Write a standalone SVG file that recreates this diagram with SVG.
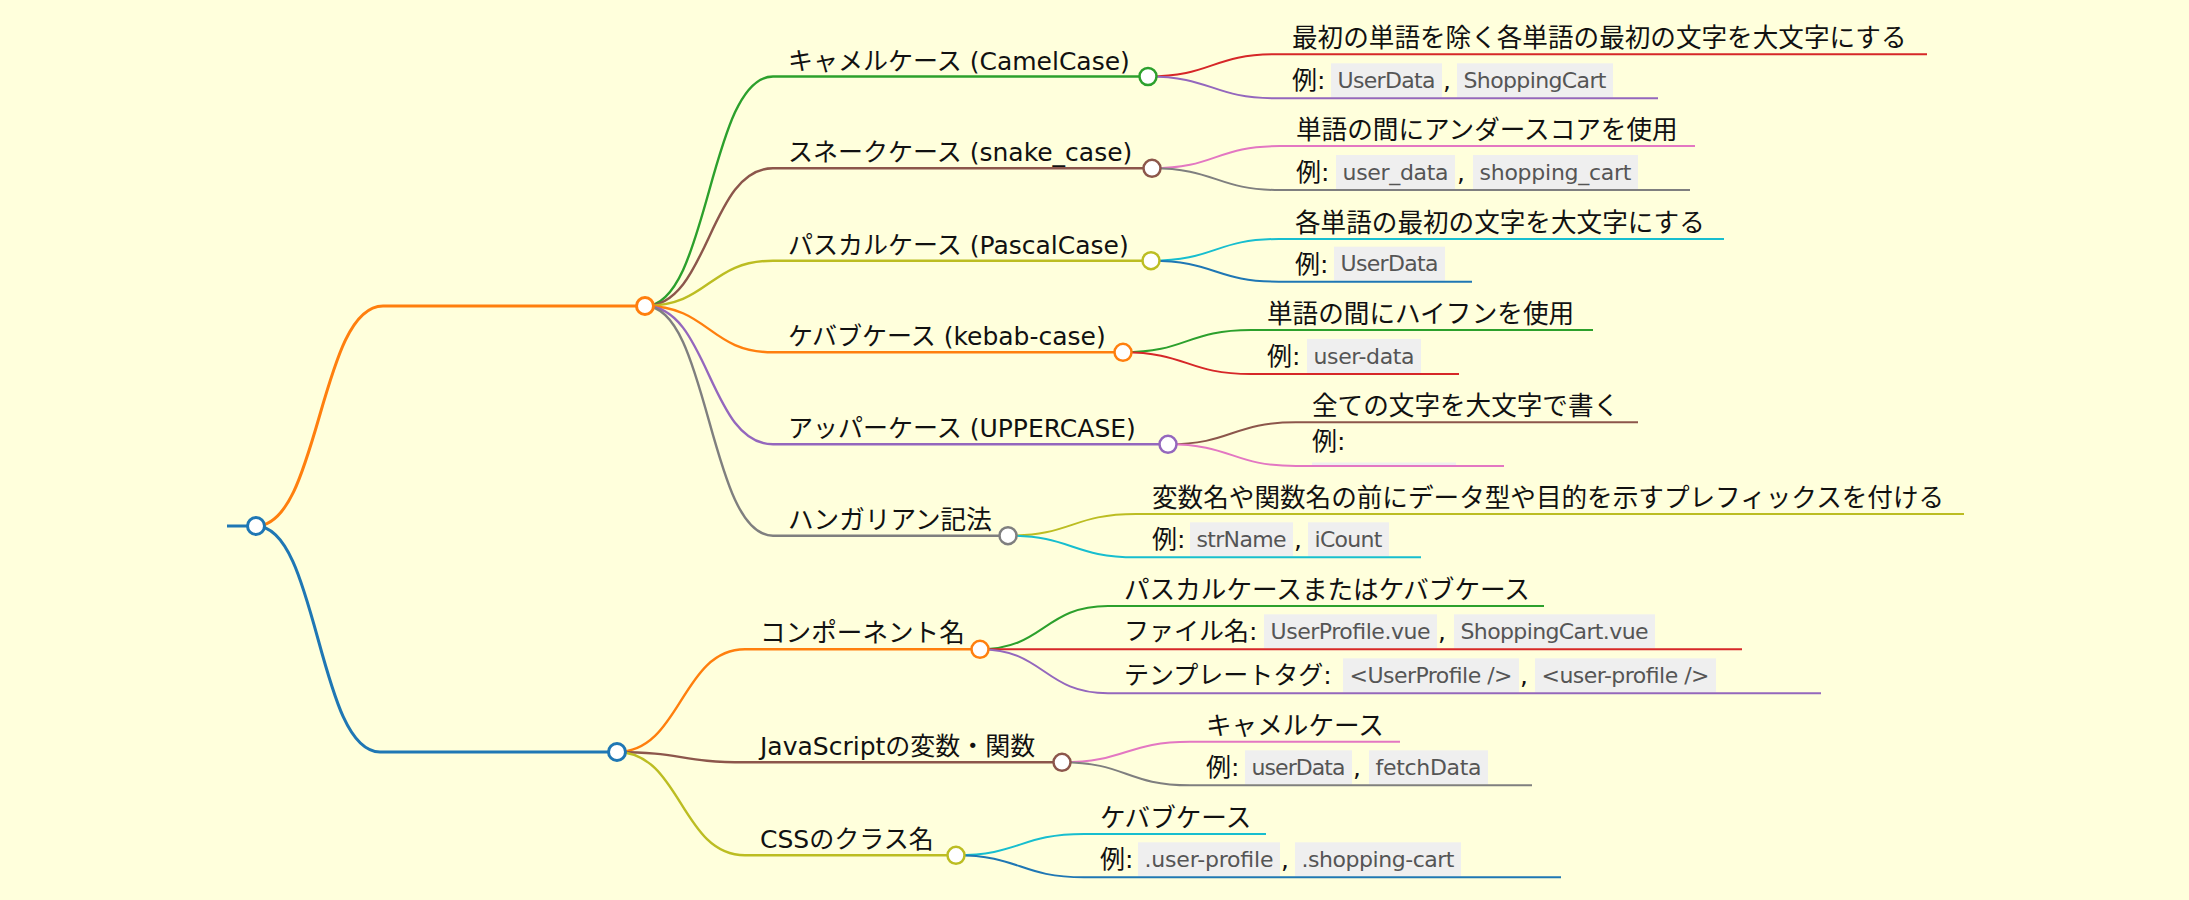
<svg xmlns="http://www.w3.org/2000/svg" width="2189" height="900" viewBox="0 0 2189 900">
<style>
.t{font-family:"DejaVu Sans","Noto Sans CJK JP",sans-serif;font-size:25px;fill:#111}
.j{font-size:25.6px}
.c{font-family:"DejaVu Sans","Noto Sans CJK JP",sans-serif;font-size:22px;fill:#555}
.box{fill:#efefef}
path{fill:none;stroke-linecap:butt}
.w1{stroke-width:3}
.w2{stroke-width:2.4}
.w3{stroke-width:2}
circle{fill:#fff}
.cb1{stroke-width:3}
.cb2{stroke-width:2.5}
</style>
<rect x="0" y="0" width="2189" height="900" fill="#ffffdc"/>
<g id="connectors">
<path class="w1" stroke="#ff7f0e" d="M256,526 C319.5,526 319.5,306 383,306"/>
<path class="w1" stroke="#1f77b4" d="M256,526 C318,526 318,752 380,752"/>
<path class="w2" stroke="#2ca02c" d="M645,306 C709,306 709,76.5 773,76.5"/>
<path class="w2" stroke="#8c564b" d="M645,306 C709,306 709,168.3 773,168.3"/>
<path class="w2" stroke="#bcbd22" d="M645,306 C709,306 709,260.7 773,260.7"/>
<path class="w2" stroke="#ff7f0e" d="M645,306 C709,306 709,352.3 773,352.3"/>
<path class="w2" stroke="#9467bd" d="M645,306 C709,306 709,444.3 773,444.3"/>
<path class="w2" stroke="#7f7f7f" d="M645,306 C709,306 709,535.7 773,535.7"/>
<path class="w2" stroke="#ff7f0e" d="M617,752 C681,752 681,649.3 745,649.3"/>
<path class="w2" stroke="#8c564b" d="M617,752 C681,752 681,762.3 745,762.3"/>
<path class="w2" stroke="#bcbd22" d="M617,752 C681,752 681,855.3 745,855.3"/>
<path class="w3" stroke="#d62728" d="M1148,76.5 C1212,76.5 1212,54.3 1276,54.3"/>
<path class="w3" stroke="#9467bd" d="M1148,76.5 C1212,76.5 1212,98.3 1276,98.3"/>
<path class="w3" stroke="#e377c2" d="M1152,168.3 C1216,168.3 1216,146 1280,146"/>
<path class="w3" stroke="#7f7f7f" d="M1152,168.3 C1216,168.3 1216,190 1280,190"/>
<path class="w3" stroke="#17becf" d="M1151,260.7 C1215,260.7 1215,239 1279,239"/>
<path class="w3" stroke="#1f77b4" d="M1151,260.7 C1215,260.7 1215,281.7 1279,281.7"/>
<path class="w3" stroke="#2ca02c" d="M1123,352.3 C1187,352.3 1187,330 1251,330"/>
<path class="w3" stroke="#d62728" d="M1123,352.3 C1187,352.3 1187,374 1251,374"/>
<path class="w3" stroke="#8c564b" d="M1168,444.3 C1232,444.3 1232,422.3 1296,422.3"/>
<path class="w3" stroke="#e377c2" d="M1168,444.3 C1232,444.3 1232,466 1296,466"/>
<path class="w3" stroke="#bcbd22" d="M1008,535.7 C1072,535.7 1072,514 1136,514"/>
<path class="w3" stroke="#17becf" d="M1008,535.7 C1072,535.7 1072,557.3 1136,557.3"/>
<path class="w3" stroke="#2ca02c" d="M980,649.3 C1044,649.3 1044,606 1108,606"/>
<path class="w3" stroke="#d62728" d="M980,649.3 L1108,649.3"/>
<path class="w3" stroke="#9467bd" d="M980,649.3 C1044,649.3 1044,693.3 1108,693.3"/>
<path class="w3" stroke="#e377c2" d="M1062,762.3 C1126,762.3 1126,741.7 1190,741.7"/>
<path class="w3" stroke="#7f7f7f" d="M1062,762.3 C1126,762.3 1126,785.3 1190,785.3"/>
<path class="w3" stroke="#17becf" d="M956,855.3 C1020,855.3 1020,834 1084,834"/>
<path class="w3" stroke="#1f77b4" d="M956,855.3 C1020,855.3 1020,877.3 1084,877.3"/>
</g>

<g id="root">
<path class="w1" stroke="#1f77b4" d="M227,526 H256"/>
<circle class="cb1" cx="256" cy="526" r="8.5" stroke="#1f77b4"/>
</g>
<g id="main-top">
<path class="w1" stroke="#ff7f0e" d="M383,306 H645"/>
<circle class="cb1" cx="645" cy="306" r="8.5" stroke="#ff7f0e"/>
</g>
<g id="main-bottom">
<path class="w1" stroke="#1f77b4" d="M380,752 H617"/>
<circle class="cb1" cx="617" cy="752" r="8.5" stroke="#1f77b4"/>
</g>

<g id="camel">
<path class="w2" stroke="#2ca02c" d="M773,76.5 H1148"/>
<text class="t" x="788" y="69.5">キャメルケース (CamelCase)</text>
<circle class="cb2" cx="1148" cy="76.5" r="8.5" stroke="#2ca02c"/>
</g>
<g id="snake">
<path class="w2" stroke="#8c564b" d="M773,168.3 H1152"/>
<text class="t" x="788" y="161.3">スネークケース (snake_case)</text>
<circle class="cb2" cx="1152" cy="168.3" r="8.5" stroke="#8c564b"/>
</g>
<g id="pascal">
<path class="w2" stroke="#bcbd22" d="M773,260.7 H1151"/>
<text class="t" x="788" y="253.7">パスカルケース (PascalCase)</text>
<circle class="cb2" cx="1151" cy="260.7" r="8.5" stroke="#bcbd22"/>
</g>
<g id="kebab">
<path class="w2" stroke="#ff7f0e" d="M773,352.3 H1123"/>
<text class="t" x="788" y="345.3">ケバブケース (kebab-case)</text>
<circle class="cb2" cx="1123" cy="352.3" r="8.5" stroke="#ff7f0e"/>
</g>
<g id="upper">
<path class="w2" stroke="#9467bd" d="M773,444.3 H1168"/>
<text class="t" x="788" y="437.3">アッパーケース (UPPERCASE)</text>
<circle class="cb2" cx="1168" cy="444.3" r="8.5" stroke="#9467bd"/>
</g>
<g id="hungarian">
<path class="w2" stroke="#7f7f7f" d="M773,535.7 H1008"/>
<text class="t j" x="788" y="528.7">ハンガリアン記法</text>
<circle class="cb2" cx="1008" cy="535.7" r="8.5" stroke="#7f7f7f"/>
</g>
<g id="component">
<path class="w2" stroke="#ff7f0e" d="M745,649.3 H980"/>
<text class="t j" x="760" y="642.3">コンポーネント名</text>
<circle class="cb2" cx="980" cy="649.3" r="8.5" stroke="#ff7f0e"/>
</g>
<g id="javascript">
<path class="w2" stroke="#8c564b" d="M745,762.3 H1062"/>
<text class="t" x="760" y="755.3">JavaScriptの変数・関数</text>
<circle class="cb2" cx="1062" cy="762.3" r="8.5" stroke="#8c564b"/>
</g>
<g id="css">
<path class="w2" stroke="#bcbd22" d="M745,855.3 H956"/>
<text class="t" x="760" y="848.3">CSSのクラス名</text>
<circle class="cb2" cx="956" cy="855.3" r="8.5" stroke="#bcbd22"/>
</g>

<g id="camel-1">
<path class="w3" stroke="#d62728" d="M1276,54.3 H1927"/>
<text class="t j" x="1292" y="47.3">最初の単語を除く各単語の最初の文字を大文字にする</text>
</g>
<g id="camel-2">
<rect class="box" x="1331" y="63.3" width="111" height="34"/>
<rect class="box" x="1457" y="63.3" width="156" height="34"/>
<path class="w3" stroke="#9467bd" d="M1276,98.3 H1658"/>
<text class="t" x="1292" y="89.3">例:</text>
<text class="c" x="1337.5" y="87.8" textLength="98">UserData</text>
<text class="t" x="1443" y="89.3">,</text>
<text class="c" x="1463.5" y="87.8" textLength="143">ShoppingCart</text>
</g>
<g id="snake-1">
<path class="w3" stroke="#e377c2" d="M1280,146 H1695"/>
<text class="t j" x="1296" y="139">単語の間にアンダースコアを使用</text>
</g>
<g id="snake-2">
<rect class="box" x="1336" y="155" width="119" height="34"/>
<rect class="box" x="1473" y="155" width="165" height="34"/>
<path class="w3" stroke="#7f7f7f" d="M1280,190 H1690"/>
<text class="t" x="1296" y="181">例:</text>
<text class="c" x="1342.5" y="179.5" textLength="106">user_data</text>
<text class="t" x="1457" y="181">,</text>
<text class="c" x="1479.5" y="179.5" textLength="152">shopping_cart</text>
</g>
<g id="pascal-1">
<path class="w3" stroke="#17becf" d="M1279,239 H1724"/>
<text class="t j" x="1295" y="232">各単語の最初の文字を大文字にする</text>
</g>
<g id="pascal-2">
<rect class="box" x="1334" y="246.7" width="111" height="34"/>
<path class="w3" stroke="#1f77b4" d="M1279,281.7 H1472"/>
<text class="t" x="1295" y="272.7">例:</text>
<text class="c" x="1340.5" y="271.2" textLength="98">UserData</text>
</g>
<g id="kebab-1">
<path class="w3" stroke="#2ca02c" d="M1251,330 H1593"/>
<text class="t j" x="1267" y="323">単語の間にハイフンを使用</text>
</g>
<g id="kebab-2">
<rect class="box" x="1307" y="339" width="114" height="34"/>
<path class="w3" stroke="#d62728" d="M1251,374 H1459"/>
<text class="t" x="1267" y="365">例:</text>
<text class="c" x="1313.5" y="363.5" textLength="101">user-data</text>
</g>
<g id="upper-1">
<path class="w3" stroke="#8c564b" d="M1296,422.3 H1638"/>
<text class="t j" x="1312" y="415.3">全ての文字を大文字で書く</text>
</g>
<g id="upper-2">
<rect class="box" x="1312" y="462.5" width="144" height="3"/>
<path class="w3" stroke="#e377c2" d="M1296,466 H1504"/>
<text class="t" x="1312" y="450">例:</text>
</g>
<g id="hungarian-1">
<path class="w3" stroke="#bcbd22" d="M1136,514 H1964"/>
<text class="t j" x="1152" y="507">変数名や関数名の前にデータ型や目的を示すプレフィックスを付ける</text>
</g>
<g id="hungarian-2">
<rect class="box" x="1190" y="522.3" width="103" height="34"/>
<rect class="box" x="1308" y="522.3" width="81" height="34"/>
<path class="w3" stroke="#17becf" d="M1136,557.3 H1421"/>
<text class="t" x="1152" y="548.3">例:</text>
<text class="c" x="1196.5" y="546.8" textLength="90">strName</text>
<text class="t" x="1294" y="548.3">,</text>
<text class="c" x="1314.5" y="546.8" textLength="68">iCount</text>
</g>
<g id="component-1">
<path class="w3" stroke="#2ca02c" d="M1108,606 H1544"/>
<text class="t j" x="1124" y="599">パスカルケースまたはケバブケース</text>
</g>
<g id="component-2">
<rect class="box" x="1264" y="614.3" width="173" height="34"/>
<rect class="box" x="1454" y="614.3" width="201" height="34"/>
<path class="w3" stroke="#d62728" d="M1108,649.3 H1742"/>
<text class="t" x="1124" y="640.3">ファイル名:</text>
<text class="c" x="1270.5" y="638.8" textLength="160">UserProfile.vue</text>
<text class="t" x="1438" y="640.3">,</text>
<text class="c" x="1460.5" y="638.8" textLength="188">ShoppingCart.vue</text>
</g>
<g id="component-3">
<rect class="box" x="1343" y="658.3" width="176" height="34"/>
<rect class="box" x="1535" y="658.3" width="181" height="34"/>
<path class="w3" stroke="#9467bd" d="M1108,693.3 H1821"/>
<text class="t" x="1124" y="684.3">テンプレートタグ:</text>
<text class="c" x="1349.5" y="682.8" textLength="163">&lt;UserProfile /&gt;</text>
<text class="t" x="1520" y="684.3">,</text>
<text class="c" x="1541.5" y="682.8" textLength="168">&lt;user-profile /&gt;</text>
</g>
<g id="javascript-1">
<path class="w3" stroke="#e377c2" d="M1190,741.7 H1400"/>
<text class="t j" x="1206" y="734.7">キャメルケース</text>
</g>
<g id="javascript-2">
<rect class="box" x="1245" y="750.3" width="107" height="34"/>
<rect class="box" x="1369" y="750.3" width="119" height="34"/>
<path class="w3" stroke="#7f7f7f" d="M1190,785.3 H1532"/>
<text class="t" x="1206" y="776.3">例:</text>
<text class="c" x="1251.5" y="774.8" textLength="94">userData</text>
<text class="t" x="1353" y="776.3">,</text>
<text class="c" x="1375.5" y="774.8" textLength="106">fetchData</text>
</g>
<g id="css-1">
<path class="w3" stroke="#17becf" d="M1084,834 H1266"/>
<text class="t j" x="1100" y="827">ケバブケース</text>
</g>
<g id="css-2">
<rect class="box" x="1138" y="842.3" width="142" height="34"/>
<rect class="box" x="1295" y="842.3" width="166" height="34"/>
<path class="w3" stroke="#1f77b4" d="M1084,877.3 H1561"/>
<text class="t" x="1100" y="868.3">例:</text>
<text class="c" x="1144.5" y="866.8" textLength="129">.user-profile</text>
<text class="t" x="1281" y="868.3">,</text>
<text class="c" x="1301.5" y="866.8" textLength="153">.shopping-cart</text>
</g>
</svg>
